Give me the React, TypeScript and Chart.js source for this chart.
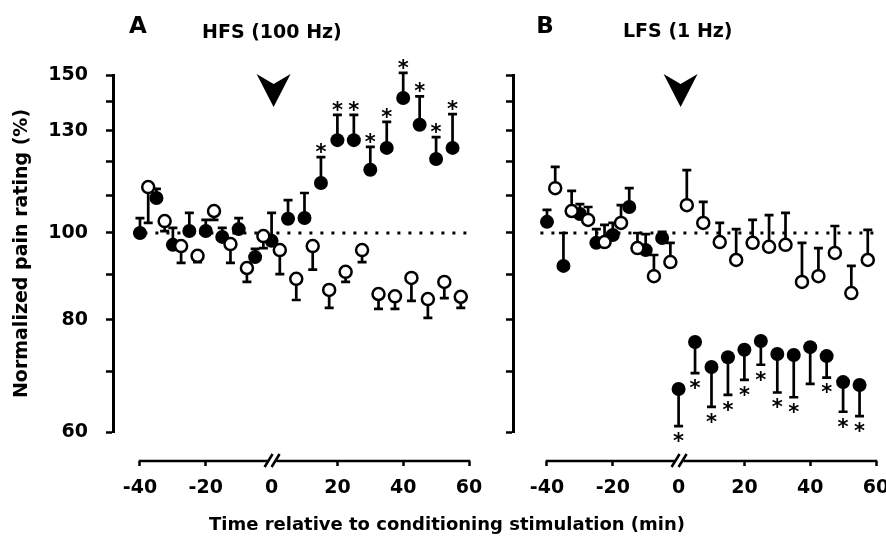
import React, { useEffect, useRef } from 'react';
import { Chart, registerables } from 'chart.js';

Chart.register(...registerables);

const FONT = '"DejaVu Sans", "Liberation Sans", sans-serif';

// ---------- data ----------
const stimTimes = [-40, -35, -30, -25, -20, -15, -10, -5, 0, 5, 10, 15, 20, 25, 30, 35, 40, 45, 50, 55];
const controlTimes = [-37.5, -32.5, -27.5, -22.5, -17.5, -12.5, -7.5, -2.5, 2.5, 7.5, 12.5, 17.5, 22.5, 27.5, 32.5, 37.5, 42.5, 47.5, 52.5, 57.5];
const xTickValues = [-40, -20, 0, 20, 40, 60];
const yTickValues = [60, 70, 80, 90, 100, 110, 120, 130, 140, 150];
const yTickLabels = [60, 80, 100, 130, 150];

// Panel A: HFS (100 Hz)
const hfsStim = [100, 109.4, 97.0, 100.5, 100.5, 99.0, 101.0, 94.0, 98.0, 103.7, 103.9, 113.7, 126.9, 126.9, 117.6, 124.4, 141.4, 132.0, 120.9, 124.4];
const hfsStimErrEnd = [103.9, 112.0, 101.3, 105.3, 103.4, 101.3, 103.9, 96.0, 105.3, 108.8, 110.8, 121.5, 135.4, 135.4, 124.7, 133.0, 150.8, 142.0, 127.9, 135.7];
const hfsStimSig = [0, 0, 0, 0, 0, 0, 0, 0, 0, 0, 0, 1, 1, 1, 1, 1, 1, 1, 1, 1];
const hfsCtrl = [112.5, 103.1, 96.7, 94.3, 105.8, 97.2, 91.4, 99.2, 95.7, 88.9, 96.7, 86.4, 90.5, 95.7, 85.5, 85.0, 89.1, 84.4, 88.2, 84.9];
const hfsCtrlErrEnd = [102.6, 100.5, 92.6, 92.8, 103.4, 92.6, 88.2, 96.2, 90.0, 84.2, 91.0, 82.5, 88.2, 92.8, 82.3, 82.3, 84.0, 80.4, 84.6, 82.5];

// Panel B: LFS (1 Hz)
const lfsStim = [102.9, 91.9, 105.0, 97.5, 99.5, 106.9, 95.7, 98.7, 67.0, 75.6, 70.9, 72.7, 74.1, 75.8, 73.3, 73.1, 74.6, 72.9, 68.2, 67.7];
const lfsStimErrEnd = [106.1, 100.0, 107.7, 101.0, 102.6, 112.2, 99.7, 100.3, 60.9, 69.8, 64.0, 66.0, 68.6, 71.3, 66.4, 65.6, 67.9, 69.0, 63.2, 62.5];
const lfsStimSig = [0, 0, 0, 0, 0, 0, 0, 0, 1, 1, 1, 1, 1, 1, 1, 1, 0, 1, 1, 1];
const lfsCtrl = [112.2, 105.8, 103.4, 97.7, 102.6, 96.2, 89.5, 92.8, 107.4, 102.6, 97.7, 93.3, 97.5, 96.5, 97.0, 88.2, 89.5, 95.0, 85.7, 93.3];
const lfsCtrlErrEnd = [118.5, 111.4, 106.9, 102.1, 107.4, 100.0, 94.5, 97.5, 117.5, 108.3, 102.6, 101.0, 103.4, 104.7, 105.3, 97.5, 96.2, 101.8, 91.9, 100.8];

// ---------- layout constants ----------
const W = 886;
const H = 547;
const X_AXIS_AT = 55.7; // y-value at which the detached time axis sits
const DOT_FROM = -42;
const DOT_TO = 61;
const CAP = 4.5;

type Panel = {
  letter: string;
  title: string;
  stim: number[];
  stimErr: number[];
  stimSig: number[];
  ctrl: number[];
  ctrlErr: number[];
  xMin: number;
  padLeft: number;
  padRight: number;
  yWidth: number;
  main: boolean;
  letterX: number;
  letterBase: number;
  titleX: number;
  titleBase: number;
};

const panelA: Panel = {
  letter: 'A', title: 'HFS (100 Hz)',
  stim: hfsStim, stimErr: hfsStimErrEnd, stimSig: hfsStimSig,
  ctrl: hfsCtrl, ctrlErr: hfsCtrlErrEnd,
  xMin: -48.2, padLeft: 0, padRight: W - 469, yWidth: 113, main: true,
  letterX: 138, letterBase: 33, titleX: 202, titleBase: 38,
};

const panelB: Panel = {
  letter: 'B', title: 'LFS (1 Hz)',
  stim: lfsStim, stimErr: lfsStimErrEnd, stimSig: lfsStimSig,
  ctrl: lfsCtrl, ctrlErr: lfsCtrlErrEnd,
  xMin: -50.33, padLeft: 473, padRight: W - 876, yWidth: 40, main: false,
  letterX: 545, letterBase: 33, titleX: 623, titleBase: 37,
};

function decorPlugin(p: Panel) {
  return {
    id: 'decor' + p.letter,
    beforeDatasetsDraw(chart: any) {
      const { ctx } = chart;
      const xs = chart.scales.x;
      const ys = chart.scales.y;
      ctx.save();
      // dotted reference line at 100 %
      const y100 = ys.getPixelForValue(100);
      ctx.strokeStyle = '#000';
      ctx.lineWidth = 3;
      ctx.setLineDash([3, 8]);
      ctx.beginPath();
      ctx.moveTo(xs.getPixelForValue(DOT_FROM), y100);
      ctx.lineTo(xs.getPixelForValue(DOT_TO), y100);
      ctx.stroke();
      ctx.setLineDash([]);
      // error bars
      ctx.lineWidth = 2.7;
      const bar = (t: number, v: number, e: number) => {
        const x = xs.getPixelForValue(t);
        const y0 = ys.getPixelForValue(v);
        const y1 = ys.getPixelForValue(e);
        ctx.beginPath();
        ctx.moveTo(x, y0);
        ctx.lineTo(x, y1);
        ctx.moveTo(x - CAP, y1);
        ctx.lineTo(x + CAP, y1);
        ctx.stroke();
      };
      controlTimes.forEach((t, i) => bar(t, p.ctrl[i], p.ctrlErr[i]));
      stimTimes.forEach((t, i) => bar(t, p.stim[i], p.stimErr[i]));
      ctx.restore();
    },
    afterDraw(chart: any) {
      const { ctx, chartArea } = chart;
      const xs = chart.scales.x;
      const ys = chart.scales.y;
      ctx.save();
      ctx.fillStyle = '#000';
      ctx.strokeStyle = '#000';
      // asterisks
      const aSize = 21;
      ctx.font = `bold ${aSize}px ${FONT}`;
      ctx.textAlign = 'center';
      ctx.textBaseline = 'alphabetic';
      stimTimes.forEach((t, i) => {
        if (!p.stimSig[i]) return;
        const x = xs.getPixelForValue(t);
        const ye = ys.getPixelForValue(p.stimErr[i]);
        const up = p.stimErr[i] > p.stim[i];
        const c = up ? ye - 10 : ye + 10;
        ctx.fillText('*', x, c + 0.56 * aSize);
      });
      // arrowhead marking conditioning stimulation
      const ax = xs.getPixelForValue(0) + 2;
      const top = chartArea.top - 1;
      ctx.beginPath();
      ctx.moveTo(ax - 17, top);
      ctx.lineTo(ax, top + 10);
      ctx.lineTo(ax + 17, top);
      ctx.lineTo(ax, top + 33);
      ctx.closePath();
      ctx.fill();
      // detached time axis with break
      const yA = ys.getPixelForValue(X_AXIS_AT);
      const x0 = xs.getPixelForValue(0);
      ctx.lineWidth = 2.5;
      ctx.beginPath();
      ctx.moveTo(xs.getPixelForValue(-40) - 1.25, yA);
      ctx.lineTo(x0 - 4, yA);
      ctx.moveTo(x0 + 5, yA);
      ctx.lineTo(xs.getPixelForValue(60) + 1.25, yA);
      ctx.moveTo(x0 - 7, yA + 6);
      ctx.lineTo(x0 + 1, yA - 7);
      ctx.moveTo(x0, yA + 6);
      ctx.lineTo(x0 + 8, yA - 7);
      ctx.stroke();
      // panel letter and title
      ctx.font = `bold 23px ${FONT}`;
      ctx.textAlign = 'center';
      ctx.fillText(p.letter, p.letterX, p.letterBase);
      ctx.font = `bold 19px ${FONT}`;
      ctx.textAlign = 'left';
      ctx.fillText(p.title, p.titleX, p.titleBase);
      if (p.main) {
        ctx.font = `bold 18px ${FONT}`;
        ctx.textAlign = 'center';
        ctx.fillText('Time relative to conditioning stimulation (min)', 447, 530);
      }
      ctx.restore();
    },
  };
}

function buildConfig(p: Panel): any {
  const tickFont = { family: FONT, size: 19, weight: 'bold' as const };
  return {
    type: 'scatter',
    data: {
      datasets: [
        {
          label: 'Control',
          data: controlTimes.map((t, i) => ({ x: t, y: p.ctrl[i] })),
          showLine: false,
          pointRadius: 6,
          pointHoverRadius: 6,
          pointBackgroundColor: '#ffffff',
          pointBorderColor: '#000000',
          pointBorderWidth: 2.5,
          clip: false,
        },
        {
          label: 'Conditioned',
          data: stimTimes.map((t, i) => ({ x: t, y: p.stim[i] })),
          showLine: false,
          pointRadius: 7,
          pointHoverRadius: 7,
          pointBackgroundColor: '#000000',
          pointBorderColor: '#000000',
          pointBorderWidth: 0,
          clip: false,
        },
      ],
    },
    options: {
      responsive: false,
      animation: false,
      events: [],
      layout: { padding: { top: 75, bottom: H - 432, left: p.padLeft, right: p.padRight } },
      plugins: { legend: { display: false }, tooltip: { enabled: false }, title: { display: false } },
      scales: {
        x: {
          type: 'linear',
          min: p.xMin,
          max: 60,
          position: { y: X_AXIS_AT },
          border: { display: false },
          grid: {
            drawOnChartArea: false,
            drawTicks: true,
            tickLength: 5,
            tickWidth: 2.5,
            color: (c: any) => (c.tick && c.tick.value === 0 ? 'rgba(0,0,0,0)' : '#000'),
          },
          ticks: {
            autoSkip: false,
            maxRotation: 0,
            padding: 11,
            color: '#000',
            font: tickFont,
            callback: (v: any) => String(v),
          },
          afterBuildTicks: (s: any) => {
            s.ticks = xTickValues.map((v) => ({ value: v }));
          },
          afterFit: (s: any) => {
            s.paddingLeft = 0;
            s.paddingRight = 0;
          },
        },
        y: {
          type: 'logarithmic',
          min: 60,
          max: 150,
          position: 'left',
          border: { display: true, color: '#000', width: 3 },
          grid: {
            drawOnChartArea: false,
            drawTicks: true,
            tickLength: 7,
            tickWidth: 2.5,
            color: '#000',
          },
          ticks: {
            autoSkip: false,
            padding: 18,
            color: '#000',
            font: tickFont,
            callback: (v: any) => (p.main && yTickLabels.includes(Number(v)) ? String(v) : ''),
          },
          afterBuildTicks: (s: any) => {
            s.ticks = yTickValues.map((v) => ({ value: v }));
          },
          afterFit: (s: any) => {
            s.width = p.yWidth;
          },
          title: {
            display: p.main,
            text: 'Normalized pain rating (%)',
            color: '#000',
            font: tickFont,
            padding: { top: 11, bottom: 0 },
          },
        },
      },
    },
    plugins: [decorPlugin(p)],
  };
}

function PanelChart({ panel }: { panel: Panel }) {
  const ref = useRef<HTMLCanvasElement | null>(null);
  useEffect(() => {
    if (!ref.current) return;
    const chart = new Chart(ref.current, buildConfig(panel));
    return () => chart.destroy();
  }, [panel]);
  return (
    <canvas
      ref={ref}
      width={W}
      height={H}
      style={{ position: 'absolute', left: 0, top: 0, width: W, height: H, display: 'block' }}
    />
  );
}

export default function App() {
  return (
    <div
      style={{
        position: 'fixed',
        left: 0,
        top: 0,
        width: W,
        height: H,
        background: '#ffffff',
        overflow: 'hidden',
      }}
    >
      <PanelChart panel={panelA} />
      <PanelChart panel={panelB} />
    </div>
  );
}
